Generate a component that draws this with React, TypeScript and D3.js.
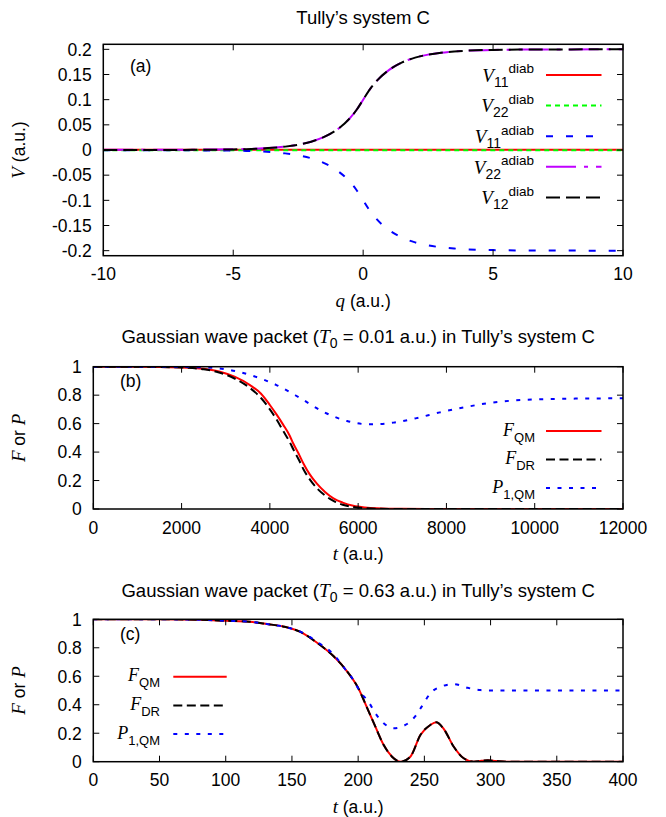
import React from "react";
import * as d3 from "d3";

const W = 666;
const H = 817;
const SANS = "'Liberation Sans', Arial, Helvetica, sans-serif";
const SERIF = "'Liberation Serif', 'Times New Roman', serif";

// ---- panel (a): Tully's system C potentials ----
const qTicks = [-10, -5, 0, 5, 10];
const vTicks = [0.2, 0.15, 0.1, 0.05, 0, -0.05, -0.1, -0.15, -0.2];
const vTickLabels = ["0.2", "0.15", "0.1", "0.05", "0", "-0.05", "-0.1", "-0.15", "-0.2"];

const qEnds = [-10, 10];
const v11Diab = [0.0006, 0.0006];
const v22Diab = [-0.0006, -0.0006];

const qGrid = [-10, -8, -6, -5, -4.5, -4, -3.5, -3, -2.5, -2, -1.5, -1, -0.5, -0.25, 0, 0.25, 0.5, 1, 1.5, 2, 2.5, 3, 3.5, 4, 5, 6, 7, 8, 10];
const v12Diab = [0.0, 0.0001, 0.0005, 0.0011, 0.0017, 0.0027, 0.0043, 0.0067, 0.0105, 0.0165, 0.0259, 0.0407, 0.0638, 0.0799, 0.1, 0.1201, 0.1362, 0.1593, 0.1741, 0.1835, 0.1895, 0.1933, 0.1957, 0.1973, 0.1989, 0.1995, 0.1998, 0.1999, 0.2];
const v22Adiab = [0.0006, 0.0006, 0.0008, 0.0013, 0.0018, 0.0028, 0.0043, 0.0067, 0.0105, 0.0165, 0.0259, 0.0407, 0.0638, 0.0799, 0.1, 0.1201, 0.1362, 0.1593, 0.1741, 0.1835, 0.1895, 0.1933, 0.1957, 0.1973, 0.1989, 0.1995, 0.1998, 0.1999, 0.2];
const v11Adiab = [-0.0006, -0.0006, -0.0008, -0.0013, -0.0018, -0.0028, -0.0043, -0.0067, -0.0105, -0.0165, -0.0259, -0.0407, -0.0638, -0.0799, -0.1, -0.1201, -0.1362, -0.1593, -0.1741, -0.1835, -0.1895, -0.1933, -0.1957, -0.1973, -0.1989, -0.1995, -0.1998, -0.1999, -0.2];

// ---- panel (b): T0 = 0.01 a.u. ----
const tTicksB = [0, 2000, 4000, 6000, 8000, 10000, 12000];
const fTicks = [0, 0.2, 0.4, 0.6, 0.8, 1];
const fTickLabels = ["0", "0.2", "0.4", "0.6", "0.8", "1"];

const tB = [0, 1000, 2000, 2500, 2870, 3200, 3550, 3800, 4000, 4150, 4300, 4450, 4530, 4650, 4760, 4900, 5060, 5250, 5440, 5650, 5890, 6150, 6420, 7000, 8000, 12000];
const fQMb = [1, 1, 0.995, 0.985, 0.965, 0.93, 0.871, 0.81, 0.731, 0.665, 0.593, 0.515, 0.46, 0.39, 0.32, 0.245, 0.18, 0.12, 0.075, 0.045, 0.023, 0.011, 0.005, 0.001, 0, 0];
const fDRb = [1, 1, 0.994, 0.982, 0.958, 0.917, 0.85, 0.78, 0.7, 0.63, 0.55, 0.47, 0.42, 0.35, 0.28, 0.21, 0.148, 0.095, 0.057, 0.03, 0.014, 0.006, 0.002, 0, 0, 0];
const tPb = [0, 1000, 2000, 2500, 3100, 3600, 4150, 4700, 5200, 5750, 6250, 6800, 7300, 7850, 8400, 8900, 9500, 10000, 11000, 12000];
const pQMb = [1, 1, 0.998, 0.995, 0.977, 0.937, 0.871, 0.777, 0.685, 0.618, 0.595, 0.607, 0.637, 0.679, 0.714, 0.742, 0.762, 0.77, 0.776, 0.778];

// ---- panel (c): T0 = 0.63 a.u. ----
const tTicksC = [0, 50, 100, 150, 200, 250, 300, 350, 400];
const tC = [0, 50, 80, 100, 118, 131, 144, 156, 169, 181.5, 191.6, 199.9, 206.7, 213, 219.3, 225.6, 232, 239.4, 247, 254.5, 259, 264.6, 272.2, 279.7, 287.3, 293, 298, 304, 312, 400];
const fQMc = [1, 1, 0.997, 0.99, 0.983, 0.967, 0.948, 0.913, 0.835, 0.74, 0.635, 0.52, 0.38, 0.246, 0.117, 0.035, 0, 0.035, 0.187, 0.258, 0.277, 0.23, 0.105, 0.024, 0, 0.006, 0.01, 0.005, 0, 0];
const fDRc = [1, 1, 0.997, 0.99, 0.983, 0.967, 0.948, 0.913, 0.835, 0.74, 0.635, 0.52, 0.38, 0.246, 0.117, 0.035, 0, 0.035, 0.187, 0.258, 0.277, 0.23, 0.105, 0.024, 0, 0.006, 0.01, 0.005, 0, 0];
const tPc = [0, 50, 80, 100, 118, 131, 144, 156, 169, 181.5, 190.3, 196.6, 201.6, 207.9, 213, 219.3, 226.8, 235.7, 243.2, 248.2, 254.5, 263.4, 272.2, 282.2, 292.3, 300, 400];
const pQMc = [1, 1, 0.997, 0.99, 0.983, 0.967, 0.948, 0.915, 0.842, 0.752, 0.648, 0.572, 0.49, 0.42, 0.34, 0.27, 0.235, 0.258, 0.32, 0.39, 0.48, 0.53, 0.545, 0.52, 0.503, 0.5, 0.5];

type Series = { xs: number[]; ys: number[]; color: string; dash?: string };
type LegendItem = { main: string; sub: string; sup?: string; color: string; dash?: string };

interface PanelProps {
  id: string;
  box: { left: number; right: number; top: number; bottom: number };
  xDomain: [number, number];
  yDomain: [number, number];
  xTicks: number[];
  yTicks: number[];
  yTickLabels: string[];
  series: Series[];
  legend: LegendItem[];
  legendPos: { textX: number; x0: number; x1: number; y0: number; step: number };
  tag: { text: string; x: number; y: number };
  title: React.ReactNode;
  titleY: number;
  xLabel: string;
  yLabel: React.ReactNode;
}

const Panel: React.FC<PanelProps> = (p) => {
  const { left, right, top, bottom } = p.box;
  const x = d3.scaleLinear().domain(p.xDomain).range([left, right]);
  const y = d3.scaleLinear().domain(p.yDomain).range([bottom, top]);
  const cx = (left + right) / 2;
  const tick = 6;

  return (
    <g>
      <defs>
        <clipPath id={`clip-${p.id}`}>
          <rect x={left} y={top} width={right - left} height={bottom - top} />
        </clipPath>
      </defs>

      {/* title */}
      <text x={cx} y={p.titleY} textAnchor="middle" fontSize={18.5}>{p.title}</text>

      {/* data */}
      <g clipPath={`url(#clip-${p.id})`}>
        {p.series.map((s, i) => {
          const line = d3.line<number>()
            .x((_, j) => x(s.xs[j]))
            .y((d) => y(d))
            .curve(d3.curveMonotoneX);
          return (
            <path key={i} d={line(s.ys) || ""} fill="none" stroke={s.color}
              strokeWidth={2} strokeDasharray={s.dash} />
          );
        })}
      </g>

      {/* ticks */}
      {p.yTicks.map((t, i) => (
        <g key={`y${i}`}>
          <line x1={left} x2={left + tick} y1={y(t)} y2={y(t)} stroke="#000" strokeWidth={1} />
          <line x1={right} x2={right - tick} y1={y(t)} y2={y(t)} stroke="#000" strokeWidth={1} />
          <text x={left - 11.5} y={y(t) + 6.3} textAnchor="end" fontSize={17.5}>{p.yTickLabels[i]}</text>
        </g>
      ))}
      {p.xTicks.map((t, i) => (
        <g key={`x${i}`}>
          <line x1={x(t)} x2={x(t)} y1={bottom} y2={bottom - tick} stroke="#000" strokeWidth={1} />
          <line x1={x(t)} x2={x(t)} y1={top} y2={top + tick} stroke="#000" strokeWidth={1} />
          <text x={x(t)} y={bottom + 24.5} textAnchor="middle" fontSize={17.5}>{String(t)}</text>
        </g>
      ))}

      {/* frame */}
      <rect x={left} y={top} width={right - left} height={bottom - top} fill="none" stroke="#000" strokeWidth={1.5} />

      {/* axis labels */}
      <text x={cx} y={bottom + 51} textAnchor="middle" fontSize={17.5}>
        <tspan fontFamily={SERIF} fontStyle="italic" fontSize={19}>{p.xLabel}</tspan>
        <tspan> (a.u.)</tspan>
      </text>
      <text transform={`translate(25,${(top + bottom) / 2}) rotate(-90)`} textAnchor="middle" fontSize={17.5}>
        {p.yLabel}
      </text>

      {/* panel tag */}
      <text x={p.tag.x} y={p.tag.y} fontSize={17.5}>{p.tag.text}</text>

      {/* legend */}
      {p.legend.map((l, i) => {
        const ly = p.legendPos.y0 + i * p.legendPos.step;
        return (
          <g key={`l${i}`}>
            {l.sup ? (
              <text x={p.legendPos.textX} y={ly + 6.7} textAnchor="end" fontSize={17.5}>
                <tspan fontFamily={SERIF} fontStyle="italic" fontSize={19}>{l.main}</tspan>
                <tspan fontSize={14} dy={5}>{l.sub}</tspan>
                <tspan fontSize={13.5} dy={-13.4}>{l.sup}</tspan>
              </text>
            ) : (
              <text x={p.legendPos.textX} y={ly + 4.7} textAnchor="end" fontSize={17.5}>
                <tspan fontFamily={SERIF} fontStyle="italic" fontSize={18}>{l.main}</tspan>
                <tspan fontSize={13} dy={6}>{l.sub}</tspan>
              </text>
            )}
            <line x1={p.legendPos.x0} x2={p.legendPos.x1} y1={ly} y2={ly}
              stroke={l.color} strokeWidth={2} strokeDasharray={l.dash} />
          </g>
        );
      })}
    </g>
  );
};

const RED = "#ff0000";
const GREEN = "#00ff00";
const BLUE = "#0000ff";
const MAGENTA = "#c000ff";
const BLACK = "#000000";

const DASH_BLUE_A = "7,13";
const DASH_GREEN = "5,4";
const DASH_MAG = "30,8,4,8";
const DASH_LONG = "14,6";
const DASH_DR = "9,4.5";
const DOT = "4,7.5";

const FP = (
  <>
    <tspan fontFamily={SERIF} fontStyle="italic" fontSize={19}>F</tspan>
    <tspan> or </tspan>
    <tspan fontFamily={SERIF} fontStyle="italic" fontSize={19}>P</tspan>
  </>
);

const gaussTitle = (t0: string) => (
  <>
    <tspan>Gaussian wave packet (</tspan>
    <tspan fontFamily={SERIF} fontStyle="italic" fontSize={19.5}>T</tspan>
    <tspan fontSize={14} dy={5}>0</tspan>
    <tspan dy={-5}>{` = ${t0} a.u.) in Tully’s system C`}</tspan>
  </>
);

const fLegend: LegendItem[] = [
  { main: "F", sub: "QM", color: RED },
  { main: "F", sub: "DR", color: BLACK, dash: DASH_DR },
  { main: "P", sub: "1,QM", color: BLUE, dash: DOT },
];

const App: React.FC = () => {
  return (
    <svg width={W} height={H} viewBox={`0 0 ${W} ${H}`}
      style={{ position: "absolute", left: 0, top: 0, background: "#fff" }}
      fontFamily={SANS} fill="#000">
      <rect x={0} y={0} width={W} height={H} fill="#fff" />
      <Panel
        id="a"
        box={{ left: 103.3, right: 623, top: 44.3, bottom: 255.7 }}
        xDomain={[-10, 10]}
        yDomain={[-0.21, 0.21]}
        xTicks={qTicks}
        yTicks={vTicks}
        yTickLabels={vTickLabels}
        series={[
          { xs: qEnds, ys: v11Diab, color: RED },
          { xs: qEnds, ys: v22Diab, color: GREEN, dash: DASH_GREEN },
          { xs: qGrid, ys: v11Adiab, color: BLUE, dash: DASH_BLUE_A },
          { xs: qGrid, ys: v22Adiab, color: MAGENTA, dash: DASH_MAG },
          { xs: qGrid, ys: v12Diab, color: BLACK, dash: DASH_LONG },
        ]}
        legend={[
          { main: "V", sub: "11", sup: "diab", color: RED },
          { main: "V", sub: "22", sup: "diab", color: GREEN, dash: DASH_GREEN },
          { main: "V", sub: "11", sup: "adiab", color: BLUE, dash: DASH_BLUE_A },
          { main: "V", sub: "22", sup: "adiab", color: MAGENTA, dash: DASH_MAG },
          { main: "V", sub: "12", sup: "diab", color: BLACK, dash: DASH_LONG },
        ]}
        legendPos={{ textX: 534, x0: 546, x1: 601.5, y0: 75, step: 30.6 }}
        tag={{ text: "(a)", x: 130, y: 71.5 }}
        title={<tspan>Tully’s system C</tspan>}
        titleY={24.3}
        xLabel="q"
        yLabel={<><tspan fontFamily={SERIF} fontStyle="italic" fontSize={19}>V</tspan><tspan> (a.u.)</tspan></>}
      />
      <Panel
        id="b"
        box={{ left: 93.3, right: 623, top: 366.7, bottom: 509 }}
        xDomain={[0, 12000]}
        yDomain={[0, 1]}
        xTicks={tTicksB}
        yTicks={fTicks}
        yTickLabels={fTickLabels}
        series={[
          { xs: tB, ys: fQMb, color: RED },
          { xs: tB, ys: fDRb, color: BLACK, dash: DASH_DR },
          { xs: tPb, ys: pQMb, color: BLUE, dash: DOT },
        ]}
        legend={fLegend}
        legendPos={{ textX: 535, x0: 546, x1: 601.5, y0: 431, step: 28.5 }}
        tag={{ text: "(b)", x: 120, y: 387 }}
        title={gaussTitle("0.01")}
        titleY={343}
        xLabel="t"
        yLabel={FP}
      />
      <Panel
        id="c"
        box={{ left: 93.3, right: 623, top: 619.3, bottom: 761.7 }}
        xDomain={[0, 400]}
        yDomain={[0, 1]}
        xTicks={tTicksC}
        yTicks={fTicks}
        yTickLabels={fTickLabels}
        series={[
          { xs: tC, ys: fQMc, color: RED },
          { xs: tC, ys: fDRc, color: BLACK, dash: DASH_DR },
          { xs: tPc, ys: pQMc, color: BLUE, dash: DOT },
        ]}
        legend={fLegend}
        legendPos={{ textX: 160, x0: 173.3, x1: 226.7, y0: 676.7, step: 28.7 }}
        tag={{ text: "(c)", x: 120, y: 640 }}
        title={gaussTitle("0.63")}
        titleY={596.7}
        xLabel="t"
        yLabel={FP}
      />
    </svg>
  );
};

export default App;
